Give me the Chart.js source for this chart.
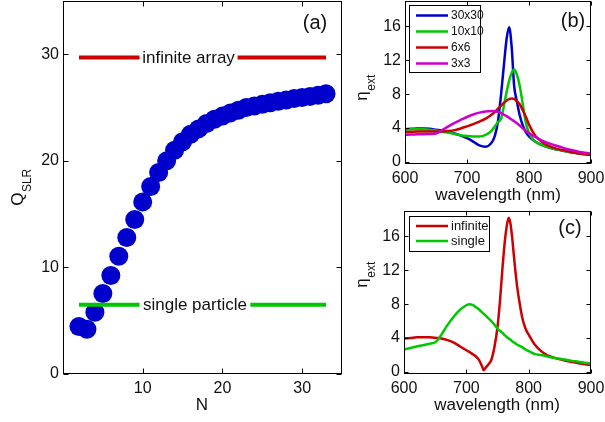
<!DOCTYPE html>
<html>
<head>
<meta charset="utf-8">
<script src="https://cdn.jsdelivr.net/npm/chart.js@4"></script>
<style>
  html, body { margin: 0; padding: 0; background: #fff; }
  #wrap { position: relative; width: 605px; height: 422px; overflow: hidden; }
  canvas { position: absolute; left: 0; top: 0; }
</style>
</head>
<body>
<div id="wrap">
  <canvas id="ca" width="605" height="422"></canvas>
  <canvas id="cb" width="605" height="422"></canvas>
  <canvas id="cc" width="605" height="422"></canvas>
</div>
<script>
// ---- panel (a): Q_SLR vs N ----
const nValues = [2,3,4,5,6,7,8,9,10,11,12,13,14,15,16,17,18,19,20,21,22,23,24,25,26,27,28,29,30,31,32,33];
const qSLR = [4.45,4.2,5.8,7.55,9.25,11.05,12.8,14.5,16.15,17.6,18.9,20.0,21.0,21.8,22.5,23.0,23.5,23.9,24.2,24.5,24.75,25.0,25.15,25.3,25.45,25.6,25.7,25.85,25.95,26.05,26.15,26.3];
const qInfinite = 29.7;
const qSingle = 6.5;
const lineSpan = [2, 33];
const infiniteGap = [9.6, 21.9];
const singleGap = [9.6, 23.5];
const aTicksX = [10, 20, 30];
const aTicksY = [0, 10, 20, 30];

// ---- panel (b): finite arrays ----
const wlB = [600,610,620,630,640,650,660,670,680,690,700,710,720,730,740,745,750,755,760,764,768,772,776,780,785,790,795,800,810,820,830,840,850,860,870,880,890,900];
const eta30 = [3.85,3.9,3.95,3.95,3.9,3.8,3.7,3.55,3.35,3.1,2.8,2.4,1.95,1.8,2.3,3.1,4.8,8.0,11.8,14.6,15.9,13.6,9.0,7.3,5.5,4.3,3.5,3.0,2.4,2.0,1.75,1.55,1.4,1.25,1.1,1.0,0.92,0.85];
const eta10 = [3.8,3.85,3.85,3.85,3.8,3.7,3.55,3.45,3.3,3.15,3.05,3.0,3.0,3.2,3.7,4.2,4.7,5.1,6.8,8.3,9.6,10.5,10.9,10.4,9.0,6.8,4.6,3.4,2.4,2.0,1.75,1.55,1.4,1.25,1.1,1.0,0.92,0.85];
const eta6 = [3.5,3.55,3.6,3.6,3.6,3.6,3.6,3.65,3.75,3.95,4.2,4.45,4.75,5.1,5.6,5.9,6.3,6.65,7.0,7.25,7.4,7.5,7.45,7.2,6.8,6.1,5.3,4.4,3.1,2.4,1.95,1.65,1.45,1.3,1.12,1.0,0.9,0.8];
const eta3 = [3.2,3.22,3.25,3.27,3.3,3.35,3.75,4.2,4.6,4.95,5.3,5.6,5.82,5.95,6.0,5.98,5.9,5.75,5.55,5.4,5.2,5.0,4.8,4.6,4.3,3.95,3.65,3.4,2.95,2.55,2.25,2.0,1.78,1.55,1.38,1.2,1.08,0.98];

// ---- panel (c): infinite vs single ----
const wlC = [600,610,620,630,640,650,655,660,670,680,690,700,705,710,715,720,725,728,731,735,740,745,750,754,758,762,765,768,771,774,778,782,786,790,795,800,810,820,830,840,850,860,870,880,890,900];
const etaInf = [3.94,4.0,4.08,4.1,4.08,4.02,4.0,3.95,3.75,3.45,3.0,2.55,2.35,2.1,1.85,1.45,0.7,0.2,0.5,0.85,1.4,2.9,5.3,8.4,12.3,15.6,17.3,18.2,17.4,15.5,12.4,9.8,7.9,6.3,5.1,4.4,3.2,2.45,1.95,1.68,1.48,1.32,1.15,1.03,0.9,0.8];
const etaSingle = [2.64,2.82,2.99,3.15,3.3,3.5,3.85,4.4,5.55,6.55,7.35,7.87,8.0,7.9,7.65,7.4,7.05,6.85,6.65,6.35,6.0,5.6,5.1,4.85,4.6,4.3,4.1,3.95,3.8,3.6,3.4,3.2,3.05,2.9,2.65,2.45,2.1,2.0,1.82,1.68,1.55,1.43,1.3,1.2,1.08,1.0];

const wlTicks = [600, 700, 800, 900];
const etaTicks = [0, 4, 8, 12, 16];

const FONT = '"Liberation Sans", Arial, Helvetica, sans-serif';
const BLUE = '#0000cc', GREEN = '#00c800', RED = '#cc0000', MAGENTA = '#cc00cc';

function pts(xs, ys) { return xs.map((x, i) => ({ x: x, y: ys[i] })); }

function hLine(y, span, gap) {
  return [{ x: span[0], y: y }, { x: gap[0], y: y }, { x: (gap[0] + gap[1]) / 2, y: null },
          { x: gap[1], y: y }, { x: span[1], y: y }];
}

function axes(xr, xTicks, yr, yTicks, yW, xH) {
  const tickFont = { family: FONT, size: 16 };
  return {
    x: {
      type: 'linear', min: xr[0], max: xr[1],
      grid: { display: false, drawTicks: false }, border: { display: false },
      ticks: { color: '#111', font: tickFont, padding: 5, maxRotation: 0 },
      afterBuildTicks: s => { s.ticks = xTicks.map(v => ({ value: v })); },
      afterFit: s => { s.height = xH; s.paddingLeft = 0; s.paddingRight = 0; }
    },
    y: {
      type: 'linear', min: yr[0], max: yr[1],
      grid: { display: false, drawTicks: false }, border: { display: false },
      ticks: { color: '#111', font: tickFont, padding: 4 },
      afterBuildTicks: s => { s.ticks = yTicks.map(v => ({ value: v })); },
      afterFit: s => { s.width = yW; s.paddingTop = 0; s.paddingBottom = 0; }
    }
  };
}

// frame, inward ticks on all sides, titles, panel tag, legend box
const framePlugin = {
  id: 'frame',
  afterDraw(chart) {
    const o = chart.options.plugins.frame;
    const ctx = chart.ctx, a = chart.chartArea;
    const sx = chart.scales.x, sy = chart.scales.y;
    const L = Math.round(a.left) + 0.5, R = Math.round(a.right) - 0.5;
    const T = Math.round(a.top) + 0.5, B = Math.round(a.bottom) - 0.5;
    ctx.save();
    ctx.strokeStyle = '#000';
    ctx.lineWidth = 1;
    ctx.strokeRect(L, T, R - L, B - T);
    ctx.beginPath();
    sx.ticks.forEach(t => {
      const p = Math.round(sx.getPixelForValue(t.value)) + 0.5;
      ctx.moveTo(p, B); ctx.lineTo(p, B - o.tick);
      ctx.moveTo(p, T); ctx.lineTo(p, T + o.tick);
    });
    sy.ticks.forEach(t => {
      const p = Math.round(sy.getPixelForValue(t.value)) + 0.5;
      ctx.moveTo(L, p); ctx.lineTo(L + o.tick, p);
      ctx.moveTo(R, p); ctx.lineTo(R - o.tick, p);
    });
    ctx.stroke();

    ctx.fillStyle = '#111';
    ctx.textAlign = 'center';
    ctx.textBaseline = 'middle';
    ctx.font = '20px ' + FONT;
    ctx.fillText(o.tag[0], o.tag[1], o.tag[2]);
    ctx.font = '17px ' + FONT;
    ctx.fillText(o.xTitle[0], o.xTitle[1], o.xTitle[2]);

    // inline labels on the reference lines
    (o.inline || []).forEach(l => {
      ctx.font = '17px ' + FONT;
      ctx.fillText(l.text, sx.getPixelForValue(l.x), sy.getPixelForValue(l.y) + 1);
    });

    // rotated y title with subscript
    const yt = o.yTitle;
    ctx.save();
    ctx.translate(yt.x, yt.y);
    ctx.rotate(-Math.PI / 2);
    ctx.textAlign = 'left';
    ctx.textBaseline = 'alphabetic';
    ctx.font = yt.size + 'px ' + FONT;
    const mw = ctx.measureText(yt.main).width;
    ctx.font = yt.subSize + 'px ' + FONT;
    const sw = ctx.measureText(yt.sub).width;
    const start = -(mw + sw) / 2;
    ctx.font = yt.size + 'px ' + FONT;
    ctx.fillText(yt.main, start, 0);
    ctx.font = yt.subSize + 'px ' + FONT;
    ctx.fillText(yt.sub, start + mw + 0.5, yt.drop);
    ctx.restore();

    if (o.legend) {
      const g = o.legend;
      ctx.fillStyle = '#fff';
      ctx.fillRect(g.x, g.y, g.w, g.h);
      ctx.strokeStyle = '#000';
      ctx.lineWidth = 1;
      ctx.strokeRect(g.x + 0.5, g.y + 0.5, g.w, g.h);
      ctx.font = g.size + 'px ' + FONT;
      ctx.textAlign = 'left';
      ctx.textBaseline = 'middle';
      chart.data.datasets.forEach((d, i) => {
        const yy = g.y0 + i * g.dy;
        ctx.strokeStyle = d.borderColor;
        ctx.lineWidth = 2.5;
        ctx.beginPath();
        ctx.moveTo(g.x1, yy); ctx.lineTo(g.x2, yy);
        ctx.stroke();
        ctx.fillStyle = '#111';
        ctx.fillText(d.label, g.tx, yy + 0.5);
      });
    }
    ctx.restore();
  }
};

function curve(label, color, xs, ys, order) {
  return {
    label: label, data: pts(xs, ys), borderColor: color, backgroundColor: color,
    borderWidth: 2.5, pointRadius: 0, cubicInterpolationMode: 'monotone', order: order
  };
}

const common = { responsive: false, animation: false, events: [] };

// (a)
new Chart(document.getElementById('ca'), {
  type: 'scatter',
  data: {
    datasets: [
      { label: 'infinite array', data: hLine(qInfinite, lineSpan, infiniteGap), showLine: true,
        borderColor: RED, borderWidth: 4, pointRadius: 0, order: 0 },
      { label: 'single particle', data: hLine(qSingle, lineSpan, singleGap), showLine: true,
        borderColor: GREEN, borderWidth: 4, pointRadius: 0, order: 0 },
      { label: 'Q', data: pts(nValues, qSLR), pointRadius: 9.5, pointBorderWidth: 0,
        pointBackgroundColor: BLUE, backgroundColor: BLUE, order: 1 }
    ]
  },
  options: Object.assign({}, common, {
    layout: { autoPadding: false, padding: { left: 0, top: 1, right: 263, bottom: 0 } },
    scales: axes([0, 35], aTicksX, [0, 35], aTicksY, 63, 48),
    plugins: {
      legend: { display: false }, tooltip: { enabled: false },
      frame: {
        tick: 5, tag: ['(a)', 315, 23], xTitle: ['N', 202, 405],
        yTitle: { main: 'Q', sub: 'SLR', x: 22.5, y: 187.5, size: 17, subSize: 12, drop: 8.5 },
        inline: [
          { text: 'infinite array', x: (infiniteGap[0] + infiniteGap[1]) / 2, y: qInfinite },
          { text: 'single particle', x: (singleGap[0] + singleGap[1]) / 2, y: qSingle }
        ]
      }
    }
  }),
  plugins: [framePlugin]
});

// (b)
new Chart(document.getElementById('cb'), {
  type: 'line',
  data: {
    datasets: [
      curve('30x30', BLUE, wlB, eta30, 3),
      curve('10x10', GREEN, wlB, eta10, 2),
      curve('6x6', RED, wlB, eta6, 1),
      curve('3x3', MAGENTA, wlB, eta3, 0)
    ]
  },
  options: Object.assign({}, common, {
    layout: { autoPadding: false, padding: { left: 370, top: 1, right: 14, bottom: 217 } },
    scales: axes([600, 900], wlTicks, [-0.25, 19], etaTicks, 35, 41),
    plugins: {
      legend: { display: false }, tooltip: { enabled: false },
      frame: {
        tick: 4, tag: ['(b)', 573, 21], xTitle: ['wavelength (nm)', 498, 195],
        yTitle: { main: '\u03b7', sub: 'ext', x: 367, y: 88, size: 17, subSize: 12, drop: 7.5 },
        legend: { x: 409, y: 5, w: 71, h: 67, y0: 15.5, dy: 16, x1: 416, x2: 448, tx: 451, size: 12 }
      }
    }
  }),
  plugins: [framePlugin]
});

// (c)
new Chart(document.getElementById('cc'), {
  type: 'line',
  data: {
    datasets: [
      curve('infinite', RED, wlC, etaInf, 1),
      curve('single', GREEN, wlC, etaSingle, 0)
    ]
  },
  options: Object.assign({}, common, {
    layout: { autoPadding: false, padding: { left: 370, top: 211, right: 14, bottom: 0 } },
    scales: axes([600, 900], wlTicks, [-0.25, 19], etaTicks, 34, 48),
    plugins: {
      legend: { display: false }, tooltip: { enabled: false },
      frame: {
        tick: 4, tag: ['(c)', 570, 228], xTitle: ['wavelength (nm)', 497, 405],
        yTitle: { main: '\u03b7', sub: 'ext', x: 367, y: 275, size: 17, subSize: 12, drop: 7.5 },
        legend: { x: 409, y: 216, w: 80, h: 35, y0: 226, dy: 15, x1: 416, x2: 448, tx: 451, size: 13 }
      }
    }
  }),
  plugins: [framePlugin]
});
</script>
</body>
</html>
